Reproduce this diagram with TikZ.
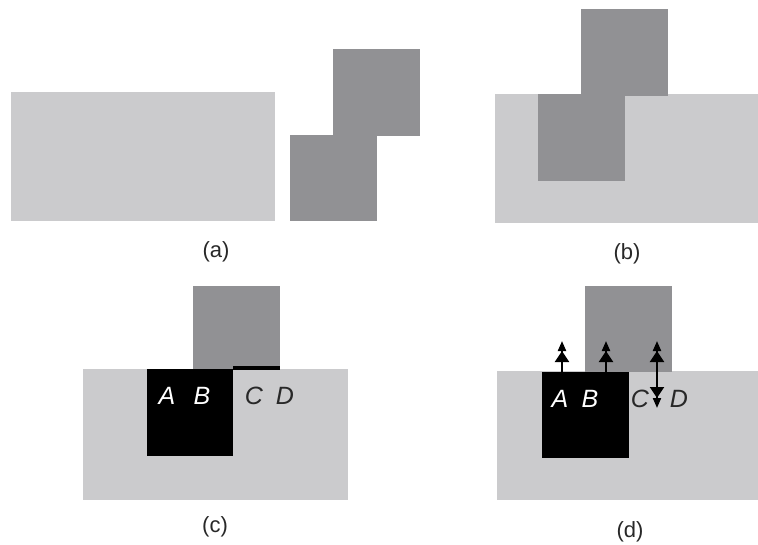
\documentclass[tikz,border=0pt]{standalone}
\usepackage{fontspec}
\setmainfont{Liberation Sans}
\usetikzlibrary{arrows.meta}
\definecolor{lightg}{RGB}{203,203,205}
\definecolor{darkg}{RGB}{145,145,148}
\definecolor{ink}{RGB}{40,40,40}
\tikzset{
  lightbox/.style={fill=lightg},
  darkbox/.style={fill=darkg},
  blackbox/.style={fill=black},
  caption/.style={font=\fontsize{22}{22}\selectfont, text=ink, inner sep=0pt},
  letter/.style={font=\fontsize{25}{25}\selectfont\itshape, inner sep=0pt, anchor=base},
  whiteletter/.style={letter, text=white},
  darkletter/.style={letter, text=ink},
  tipend/.tip={Triangle[length=11pt 0 0,width=14pt 0 0]Triangle[length=10pt 0 0,width=8pt 0 0]},
  probe/.style={line width=2pt, -{tipend}},
  probeboth/.style={line width=2pt, {tipend}-{tipend}}
}
\begin{document}
\begin{tikzpicture}[x=1pt,y=-1pt]
\useasboundingbox (0,0) rectangle (758,544);
\fill[white] (0,0) rectangle (758,544);
% (a)
\fill[lightbox] (11,92) rectangle (275,221);
\fill[darkbox] (333,49) rectangle (420,136);
\fill[darkbox] (290,135) rectangle (377,221);
\node[caption] (capa) at (216,252) {(a)};
% (b)
\fill[lightbox] (495,94) rectangle (758,223);
\fill[darkbox] (581,9) rectangle (668,96);
\fill[darkbox] (538,94) rectangle (625,181);
\node[caption] (capb) at (627,254) {(b)};
% (c)
\fill[lightbox] (83,369) rectangle (348,500);
\fill[darkbox] (193,286) rectangle (280,369);
\fill[blackbox] (147,369) rectangle (233,456);
\fill[black] (233,366) rectangle (280,369.5);
\node[whiteletter] (cA) at (167,404) {A};
\node[whiteletter] (cB) at (202,404) {B};
\node[darkletter] (cC) at (254,404) {C};
\node[darkletter] (cD) at (285,404) {D};
\node[caption] (capc) at (215,527) {(c)};
% (d)
\fill[lightbox] (497,371) rectangle (758,500);
\fill[darkbox] (585,286) rectangle (672,372);
\fill[blackbox] (542,372) rectangle (629,458);
\node[whiteletter] (dA) at (560,407) {A};
\node[whiteletter] (dB) at (590,407) {B};
\node[darkletter] (dC) at (640,407) {C};
\node[darkletter] (dD) at (679,407) {D};
\node[caption] (capd) at (630,532) {(d)};
\coordinate (a0) at (562,372);
\coordinate (a1) at (562,341);
\coordinate (b0) at (606,372);
\coordinate (b1) at (606,341);
\coordinate (c0) at (657,341);
\coordinate (c1) at (657,408);
\draw[probe] (a0) -- (a1);
\draw[probe] (b0) -- (b1);
\draw[probeboth] (c0) -- (c1);
\end{tikzpicture}
\end{document}
